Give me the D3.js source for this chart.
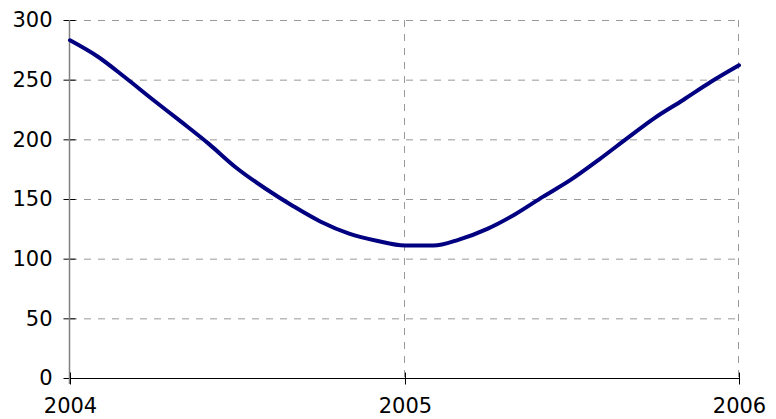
<!DOCTYPE html>
<html>
<head>
<meta charset="utf-8">
<script src="https://cdnjs.cloudflare.com/ajax/libs/d3/7.8.5/d3.min.js"></script>
<style>
  body { margin: 0; background: #fff; }
  svg text { font-family: "DejaVu Sans", Verdana, sans-serif; font-size: 21px; fill: #000; }
</style>
</head>
<body>
<div id="chart"></div>
<script>
// monthly values, Jan 2004 .. Jan 2006
var months = ["2004-01","2004-02","2004-03","2004-04","2004-05","2004-06","2004-07","2004-08","2004-09","2004-10","2004-11","2004-12",
              "2005-01","2005-02","2005-03","2005-04","2005-05","2005-06","2005-07","2005-08","2005-09","2005-10","2005-11","2005-12","2006-01"];
var values = [283, 269, 252, 233, 215, 196, 176, 159, 144, 131, 121, 115,
              111, 111, 116, 125, 137, 152, 166, 183, 201, 218, 233, 248, 262];
var yTicks = [0, 50, 100, 150, 200, 250, 300];
var xTickLabels = ["2004", "2005", "2006"];

var width = 776, height = 419;
var margin = { top: 20, right: 37, bottom: 41, left: 70 };
var w = width - margin.left - margin.right,
    h = height - margin.top - margin.bottom;

var parse = d3.timeParse("%Y-%m");
var data = months.map(function (m, i) { return { date: parse(m), value: values[i] }; });
var yearDates = xTickLabels.map(function (d) { return d3.timeParse("%Y")(d); });

var x = d3.scaleTime()
	.domain([yearDates[0], yearDates[yearDates.length - 1]])
	.range([0, w]);

var y = d3.scaleLinear()
	.domain([0, 300])
	.range([h, 0]);

var svg = d3.select("#chart").append("svg")
	.attr("width", width)
	.attr("height", height)
	.append("g")
	.attr("transform", "translate(" + margin.left + "," + margin.top + ")");

// grid lines
svg.append("g").selectAll("line.hgrid")
	.data(yTicks.filter(function (d) { return d > 0; }))
	.enter().append("line")
	.attr("class", "hgrid")
	.attr("x1", 0).attr("x2", w)
	.attr("y1", function (d) { return y(d) + 0.5; })
	.attr("y2", function (d) { return y(d) + 0.5; })
	.style("stroke", "#999")
	.style("stroke-dasharray", "7,7")
	.style("stroke-width", 1);

svg.append("g").selectAll("line.vgrid")
	.data(yearDates.slice(1))
	.enter().append("line")
	.attr("class", "vgrid")
	.attr("x1", function (d) { return Math.round(x(d)) - 0.5; })
	.attr("x2", function (d) { return Math.round(x(d)) - 0.5; })
	.attr("y1", 0).attr("y2", h)
	.style("stroke", "#999")
	.style("stroke-dasharray", "7,7")
	.style("stroke-width", 1);

// y axis
var yAxis = svg.append("g")
	.attr("transform", "translate(-0.5,0)")
	.call(d3.axisLeft(y).tickValues(yTicks).tickSize(6).tickPadding(11));
yAxis.select(".domain").remove();
yAxis.append("line")
	.attr("x1", 0).attr("x2", 0)
	.attr("y1", 0).attr("y2", h + 6)
	.style("stroke", "#808080")
	.style("stroke-width", 1.5);
yAxis.selectAll(".tick line").attr("x1", -6).attr("x2", 6).style("stroke", "#000");
yAxis.selectAll(".tick text").style("font-size", "21px").style("font-family", "DejaVu Sans");

// x axis
var xAxis = svg.append("g")
	.attr("transform", "translate(0," + (h + 0.5) + ")")
	.call(d3.axisBottom(x).tickValues(yearDates).tickFormat(d3.timeFormat("%Y")).tickSize(6).tickPadding(14));
xAxis.select(".domain").attr("d", "M0,0H" + w).style("stroke", "#000");
xAxis.selectAll(".tick line").attr("y1", -6).attr("y2", 6).style("stroke", "#000");
xAxis.selectAll(".tick text").style("font-size", "21px").style("font-family", "DejaVu Sans");

// the series line
var line = d3.line()
	.x(function (d) { return x(d.date); })
	.y(function (d) { return y(d.value); })
	.curve(d3.curveMonotoneX);

svg.append("path")
	.datum(data)
	.attr("d", line)
	.style("fill", "none")
	.style("stroke", "#000080")
	.style("stroke-width", 4)
	.style("stroke-linejoin", "round")
	.style("stroke-linecap", "round");
</script>
</body>
</html>
